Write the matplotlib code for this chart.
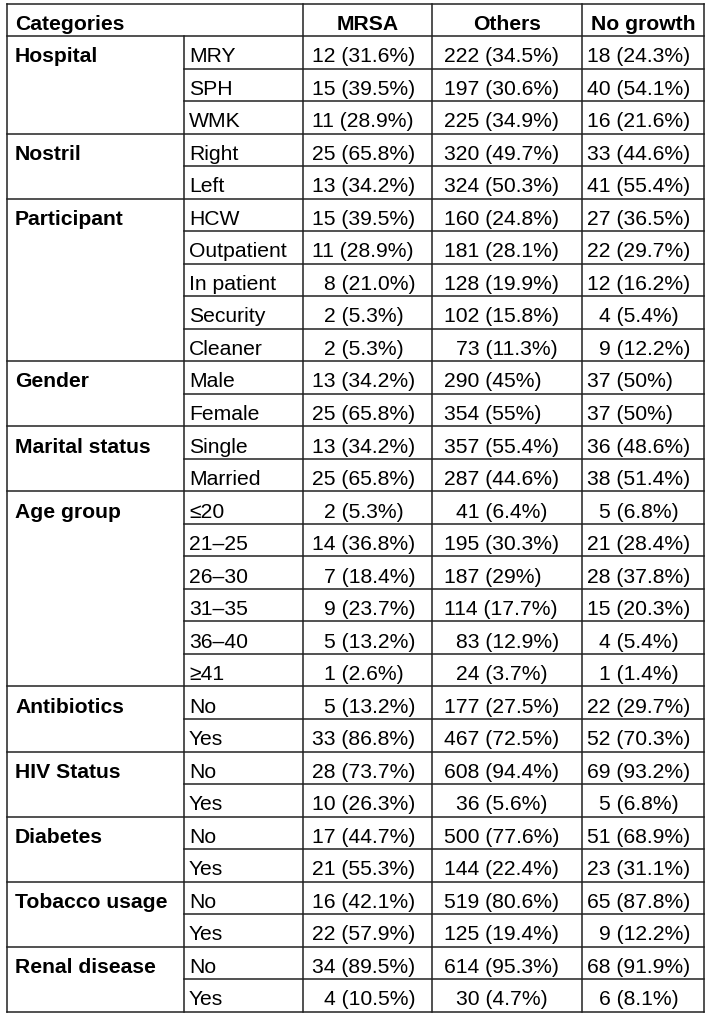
import matplotlib
matplotlib.use("Agg")
import matplotlib.pyplot as plt

plt.rcParams['font.family'] = ['Liberation Sans', 'DejaVu Sans']

headers = ["Categories", "MRSA", "Others", "No growth"]
groups = ["Hospital", "Nostril", "Participant", "Gender", "Marital status", "Age group",
          "Antibiotics", "HIV Status", "Diabetes", "Tobacco usage", "Renal disease"]
subcats = [
    ["MRY", "SPH", "WMK"],
    ["Right", "Left"],
    ["HCW", "Outpatient", "In patient", "Security", "Cleaner"],
    ["Male", "Female"],
    ["Single", "Married"],
    ["≤20", "21–25", "26–30", "31–35", "36–40", "≥41"],
    ["No", "Yes"],
    ["No", "Yes"],
    ["No", "Yes"],
    ["No", "Yes"],
    ["No", "Yes"],
]
mrsa_n = [12, 15, 11, 25, 13, 15, 11, 8, 2, 2, 13, 25, 13, 25, 2, 14, 7, 9, 5, 1,
          5, 33, 28, 10, 17, 21, 16, 22, 34, 4]
mrsa_pct = ["31.6%", "39.5%", "28.9%", "65.8%", "34.2%", "39.5%", "28.9%", "21.0%", "5.3%", "5.3%",
            "34.2%", "65.8%", "34.2%", "65.8%", "5.3%", "36.8%", "18.4%", "23.7%", "13.2%", "2.6%",
            "13.2%", "86.8%", "73.7%", "26.3%", "44.7%", "55.3%", "42.1%", "57.9%", "89.5%", "10.5%"]
others_n = [222, 197, 225, 320, 324, 160, 181, 128, 102, 73, 290, 354, 357, 287, 41, 195, 187, 114, 83, 24,
            177, 467, 608, 36, 500, 144, 519, 125, 614, 30]
others_pct = ["34.5%", "30.6%", "34.9%", "49.7%", "50.3%", "24.8%", "28.1%", "19.9%", "15.8%", "11.3%",
              "45%", "55%", "55.4%", "44.6%", "6.4%", "30.3%", "29%", "17.7%", "12.9%", "3.7%",
              "27.5%", "72.5%", "94.4%", "5.6%", "77.6%", "22.4%", "80.6%", "19.4%", "95.3%", "4.7%"]
nogrowth_n = [18, 40, 16, 33, 41, 27, 22, 12, 4, 9, 37, 37, 36, 38, 5, 21, 28, 15, 4, 1,
              22, 52, 69, 5, 51, 23, 65, 9, 68, 6]
nogrowth_pct = ["24.3%", "54.1%", "21.6%", "44.6%", "55.4%", "36.5%", "29.7%", "16.2%", "5.4%", "12.2%",
                "50%", "50%", "48.6%", "51.4%", "6.8%", "28.4%", "37.8%", "20.3%", "5.4%", "1.4%",
                "29.7%", "70.3%", "93.2%", "6.8%", "68.9%", "31.1%", "87.8%", "12.2%", "91.9%", "8.1%"]

W, H = 713, 1020
fig = plt.figure(figsize=(W / 100, H / 100), dpi=100)
ax = fig.add_axes([0, 0, 1, 1])
ax.set_xlim(0, W)
ax.set_ylim(H, 0)
ax.axis('off')

FS = 15.2
EM = FS * 100 / 72
DIGIT = 0.556 * EM
LC = '#222222'
LW = 1.1

xs = [7, 184, 303, 432, 582, 704]
top, bottom = 4.5, 1012.7
nrows = 1 + sum(len(s) for s in subcats)
rh = (bottom - top) / nrows
ys = [top + i * rh for i in range(nrows + 1)]

def hline(y, x0, x1):
    ax.plot([x0, x1], [y, y], color=LC, lw=LW, solid_capstyle='projecting')

def vline(x, y0, y1):
    ax.plot([x, x], [y0, y1], color=LC, lw=LW, solid_capstyle='projecting')

hline(ys[0], xs[0], xs[-1])
hline(ys[-1], xs[0], xs[-1])
for i, x in enumerate(xs):
    if i == 1:
        vline(x, ys[1], ys[-1])
    else:
        vline(x, ys[0], ys[-1])

base_off = 7.3

def baseline(r):
    return ys[r + 1] - base_off

ax.text(15, baseline(0), headers[0], fontsize=FS, fontweight='bold', va='baseline', ha='left')
for j, h in enumerate(headers[1:]):
    cx = (xs[2 + j] + xs[3 + j]) / 2
    ax.text(cx, baseline(0), h, fontsize=FS, fontweight='bold', va='baseline', ha='center')

cols = [(mrsa_n, mrsa_pct, 312, 2), (others_n, others_pct, 444, 3), (nogrowth_n, nogrowth_pct, 587, 2)]

r = 1
k = 0
for g, subs in zip(groups, subcats):
    hline(ys[r], xs[0], xs[-1])
    ax.text(15, baseline(r), g, fontsize=FS, fontweight='bold', va='baseline', ha='left')
    for si, s in enumerate(subs):
        if si > 0:
            hline(ys[r], xs[1], xs[-1])
        ax.text(189, baseline(r), s, fontsize=FS, va='baseline', ha='left')
        for (nn, pp, x0, nd) in cols:
            n = nn[k]
            pad = (nd - len(str(n))) * DIGIT
            ax.text(x0 + pad, baseline(r), f"{n} ({pp[k]})", fontsize=FS, va='baseline', ha='left')
        r += 1
        k += 1

fig.savefig("out.png", dpi=100)
